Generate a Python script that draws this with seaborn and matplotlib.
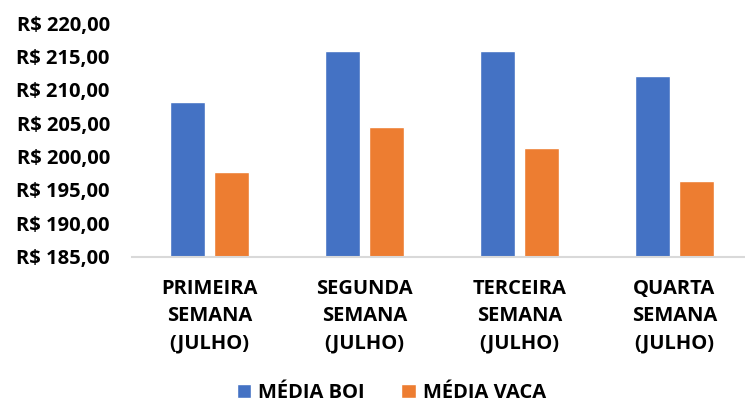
import matplotlib
matplotlib.use('Agg')
import matplotlib.pyplot as plt
import seaborn as sns
import pandas as pd
from matplotlib.ticker import FuncFormatter

semanas = ['PRIMEIRA\nSEMANA\n(JULHO)', 'SEGUNDA\nSEMANA\n(JULHO)',
           'TERCEIRA\nSEMANA\n(JULHO)', 'QUARTA\nSEMANA\n(JULHO)']
media_boi = [208.2, 215.75, 215.75, 212.05]
media_vaca = [197.6, 204.35, 201.2, 196.3]
series = ['MÉDIA BOI', 'MÉDIA VACA']
cores = ['#4472C4', '#ED7D31']

df = pd.DataFrame({
    'Semana': semanas * 2,
    'Serie': [series[0]] * 4 + [series[1]] * 4,
    'Valor': media_boi + media_vaca,
})

sns.set_style('white')
plt.rcParams['font.family'] = ['Open Sans', 'DejaVu Sans']
plt.rcParams['font.weight'] = 'bold'
plt.rcParams['font.size'] = 14.5
plt.rcParams['text.color'] = 'black'
plt.rcParams['xtick.color'] = 'black'
plt.rcParams['ytick.color'] = 'black'

fig = plt.figure(figsize=(7.45, 4.07), dpi=100)
ax = fig.add_axes([132 / 745, 1 - 256.5 / 407, (745 - 132) / 745, 233.5 / 407])

sns.barplot(data=df, x='Semana', y='Valor', hue='Serie', palette=cores,
            width=0.574, gap=0.21, saturation=1, ax=ax)

ax.set_ylim(185, 220)
ax.set_xlim(-0.5, 3.455)
ax.set_yticks(range(185, 221, 5))
ax.yaxis.set_major_formatter(FuncFormatter(lambda v, p: f'R$ {v:.2f}'.replace('.', ',')))
ax.set_xlabel('')
ax.set_ylabel('')
for s in ['top', 'right', 'left']:
    ax.spines[s].set_visible(False)
ax.spines['bottom'].set_color('#d9d9d9')
ax.spines['bottom'].set_linewidth(1.5)
ax.tick_params(axis='both', length=0, labelsize=14.5)
ax.tick_params(axis='y', pad=16)
ax.tick_params(axis='x', pad=16)
for lbl in ax.get_xticklabels():
    lbl.set_linespacing(1.5)

handles, labels = ax.get_legend_handles_labels()
ax.get_legend().remove()
fig.legend(handles, labels, loc='center', bbox_to_anchor=(0.525, 0.035), ncol=2, frameon=False,
           prop={'weight': 'bold', 'size': 14.5}, handlelength=0.72, handleheight=0.72,
           columnspacing=1.8, handletextpad=0.35, borderaxespad=0, borderpad=0)

fig.savefig('out.png', dpi=100)
